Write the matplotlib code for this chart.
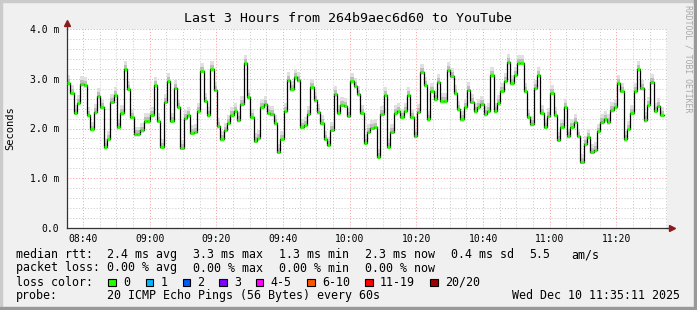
import matplotlib
matplotlib.use("Agg")
import matplotlib.pyplot as plt
from matplotlib.patches import Rectangle
from matplotlib.ticker import MultipleLocator, FixedLocator

W, H = 697, 310

# median rtt in ms, one value per minute starting 08:35
median_rtt = [
    2.91, 2.72, 2.32, 2.52, 2.89, 2.87, 2.27, 1.98, 2.33, 2.65, 2.43, 1.62, 1.79, 2.54, 2.67, 2.03,
    2.31, 3.19, 2.80, 2.23, 1.88, 1.88, 1.96, 2.15, 2.15, 2.28, 2.87, 2.16, 1.63, 2.54, 2.95,
    2.16, 2.82, 2.44, 1.61, 2.21, 2.27, 1.91, 1.93, 2.35, 3.16, 2.56, 2.27, 3.19, 2.78, 2.05,
    1.78, 1.96, 2.12, 2.27, 2.36, 2.17, 2.49, 3.31, 2.63, 2.23, 1.75, 1.80, 2.43, 2.49,
    2.32, 2.29, 2.11, 1.53, 1.79, 2.36, 2.97, 2.79, 3.04, 2.97, 2.03, 2.08, 2.29, 2.83, 2.57,
    2.33, 2.11, 1.79, 1.67, 1.97, 2.69, 2.32, 2.48, 2.46, 2.26, 2.95, 2.85, 2.69, 2.32, 1.71,
    1.93, 2.01, 2.03, 1.43, 2.29, 2.68, 1.63, 1.93, 2.31, 2.36, 2.23, 2.36, 2.67, 2.23, 1.84,
    2.34, 3.13, 2.87, 2.19, 2.76, 2.59, 2.93, 2.55, 2.55, 3.17, 3.05, 2.71, 2.39, 2.19, 2.43,
    2.78, 2.54, 2.35, 2.43, 2.49, 2.29, 2.36, 3.07, 2.35, 2.51, 2.76, 2.96, 3.33, 2.91, 3.07,
    3.32, 3.32, 2.75, 2.24, 2.09, 2.81, 3.07, 2.32, 2.03, 2.25, 2.72, 2.27, 1.77, 2.03, 2.44,
    1.84, 2.04, 2.14, 1.84, 1.33, 1.68, 1.83, 1.53, 1.56, 1.94, 2.13, 2.19, 2.13, 2.37, 2.44,
    2.91, 2.76, 1.78, 1.99, 2.32, 2.75, 3.19, 2.81, 2.17, 2.47, 2.93, 2.36, 2.46, 2.28,
]

start = 8 * 60 + 35 + 11 / 60  # minutes after midnight
end = start + 180
x_ticks = [520, 540, 560, 580, 600, 620, 640, 660, 680]
x_labels = ["08:40", "09:00", "09:20", "09:40", "10:00", "10:20", "10:40", "11:00", "11:20"]
y_ticks = [0, 1, 2, 3, 4]
y_labels = ["0.0", "1.0 m", "2.0 m", "3.0 m", "4.0 m"]

title = "Last 3 Hours from 264b9aec6d60 to YouTube"
rtt_stats = ["2.4 ms avg", "3.3 ms max", "1.3 ms min", "2.3 ms now", "0.4 ms sd", "5.5", "am/s"]
loss_stats = ["0.00 % avg", "0.00 % max", "0.00 % min", "0.00 % now"]
loss_labels = ["0", "1", "2", "3", "4-5", "6-10", "11-19", "20/20"]
loss_colors = ["#26ff00", "#00b8ff", "#0059ff", "#7e00ff", "#ff00ff", "#ff5500", "#ff0000", "#a10000"]
probe_text = "20 ICMP Echo Pings (56 Bytes) every 60s"
stamp = "Wed Dec 10 11:35:11 2025"

plt.rcParams["font.family"] = "DejaVu Sans Mono"

fig = plt.figure(figsize=(W / 100, H / 100), dpi=100, facecolor="#f0f0f0")


def fx(x):
    return x / W


def fy(y):
    return 1 - y / H


ax = fig.add_axes([fx(67), fy(228), 600 / W, 199 / H])
ax.set_facecolor("white")
ax.set_xlim(start, end)
ax.set_ylim(0, 4)

xs = [start + i for i in range(len(median_rtt) + 1)]
ys = median_rtt + [median_rtt[-1]]

# smoke
ax.fill_between(xs, [v - 0.05 for v in ys], [v + 0.16 for v in ys], step="post", color="#e0e0e0", lw=0, zorder=2)
ax.fill_between(xs, [v - 0.03 for v in ys], [v + 0.08 for v in ys], step="post", color="#bdbdbd", lw=0, zorder=2)

ax.step(xs, ys, where="post", color="black", lw=0.9, zorder=3)
ax.hlines(median_rtt, xs[:-1], xs[1:], color=loss_colors[0], lw=2.1, zorder=4)

ax.xaxis.set_major_locator(FixedLocator(x_ticks))
ax.xaxis.set_minor_locator(MultipleLocator(5))
ax.yaxis.set_major_locator(FixedLocator(y_ticks))
ax.yaxis.set_minor_locator(MultipleLocator(0.2))
ax.set_xticklabels(x_labels)
ax.set_yticklabels(y_labels)
ax.grid(which="minor", color="#c8c8c8", ls=(0, (1, 2)), lw=0.7)
ax.grid(which="major", color="#ff9a9a", ls=(0, (1, 2)), lw=0.7)
ax.set_axisbelow(True)
ax.tick_params(which="both", length=0, labelsize=7)
ax.tick_params(axis="y", pad=5.5)
ax.tick_params(axis="x", pad=4.5)

for s in ["top", "right"]:
    ax.spines[s].set_visible(False)
for s in ["left", "bottom"]:
    ax.spines[s].set_color("#333333")
    ax.spines[s].set_linewidth(0.9)

# axis arrows
ax.plot([0, 0], [1, 1.03], color="#333333", lw=0.9, transform=ax.transAxes, clip_on=False)
ax.plot([1, 1.008], [0, 0], color="#333333", lw=0.9, transform=ax.transAxes, clip_on=False)
ax.plot([0], [1.03], marker="^", ms=5, color="#8b1a1a", transform=ax.transAxes, clip_on=False)
ax.plot([1.008], [0], marker=">", ms=5, color="#8b1a1a", transform=ax.transAxes, clip_on=False)

fig.text(fx(348), fy(19), title, ha="center", va="center", fontsize=9.5)
fig.text(fx(10.5), fy(128), "Seconds", rotation=90, ha="center", va="center", fontsize=7.5)
fig.text(fx(688), fy(5), "RRDTOOL / TOBI OETIKER", rotation=270, ha="center", va="top",
         fontsize=5.9, color="#a8a8a8")

# legend block
fs = 8.4
row_y = [254.7, 268, 282.3, 295.7]
col_x = [107.3, 193.3, 279.3, 365, 451, 529, 571.7]

fig.text(fx(16), fy(row_y[0]), "median rtt:", va="center", fontsize=fs)
for x, t in zip(col_x, rtt_stats):
    fig.text(fx(x), fy(row_y[0]), t, va="center", fontsize=fs)

fig.text(fx(16), fy(row_y[1]), "packet loss:", va="center", fontsize=fs)
for x, t in zip(col_x, loss_stats):
    fig.text(fx(x), fy(row_y[1]), t, va="center", fontsize=fs)

fig.text(fx(16), fy(row_y[2]), "loss color:", va="center", fontsize=fs)
box_x = [108.3, 145.7, 182.7, 219.3, 256, 307.3, 365.3, 430.3]
bs = 7.3
for x, lab, col in zip(box_x, loss_labels, loss_colors):
    fig.add_artist(Rectangle((fx(x), fy(row_y[2] + bs / 2)), bs / W, bs / H, facecolor=col,
                             edgecolor="black", lw=0.8, transform=fig.transFigure))
    fig.text(fx(x + 14.5), fy(row_y[2]), lab, va="center", fontsize=fs)

fig.text(fx(16), fy(row_y[3]), "probe:", va="center", fontsize=fs)
fig.text(fx(107.3), fy(row_y[3]), probe_text, va="center", fontsize=fs)
fig.text(fx(680), fy(row_y[3]), stamp, va="center", ha="right", fontsize=fs)

# 3d frame like rrdtool
fig.add_artist(Rectangle((0, 1 - 2 / H), 1, 2 / H, color="#cbcbcb", transform=fig.transFigure))
fig.add_artist(Rectangle((0, 0), 2 / W, 1, color="#cbcbcb", transform=fig.transFigure))
fig.add_artist(Rectangle((1 - 3 / W, 0), 3 / W, 1, color="#999999", transform=fig.transFigure))
fig.add_artist(Rectangle((0, 0), 1, 3 / H, color="#999999", transform=fig.transFigure))

fig.savefig("out.png", dpi=100, facecolor=fig.get_facecolor())
